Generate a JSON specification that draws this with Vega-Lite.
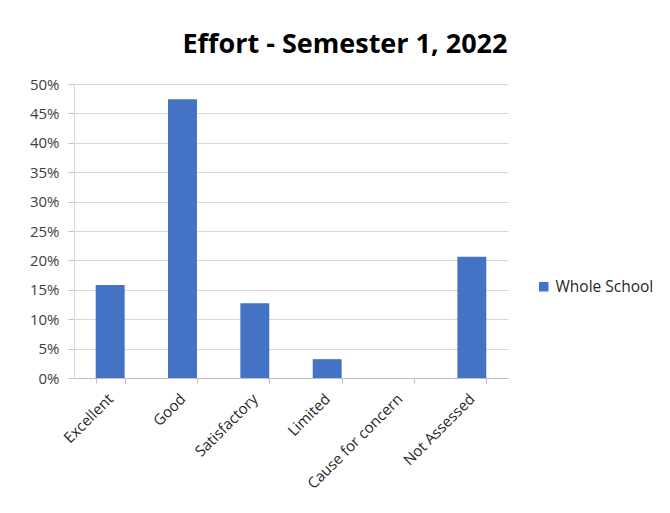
{
  "$schema": "https://vega.github.io/schema/vega-lite/v6.json",
  "autosize": {"type": "none"},
  "width": 434,
  "height": 294,
  "padding": {"left": 74, "top": 84, "right": 162, "bottom": 135},
  "background": "white",
  "title": {
    "text": "Effort - Semester 1, 2022",
    "font": "Open Sans",
    "fontSize": 27,
    "fontWeight": "bold",
    "color": "#000000",
    "anchor": "middle",
    "dx": 54,
    "offset": 18
  },
  "data": {
    "values": [
      {"category": "Excellent", "value": 0.158, "series": "Whole School"},
      {"category": "Good", "value": 0.474, "series": "Whole School"},
      {"category": "Satisfactory", "value": 0.127, "series": "Whole School"},
      {"category": "Limited", "value": 0.032, "series": "Whole School"},
      {"category": "Cause for concern", "value": 0.0, "series": "Whole School"},
      {"category": "Not Assessed", "value": 0.206, "series": "Whole School"}
    ]
  },
  "mark": {"type": "bar"},
  "encoding": {
    "x": {
      "field": "category",
      "type": "nominal",
      "sort": null,
      "scale": {"paddingInner": 0.6, "paddingOuter": 0.3},
      "axis": {
        "title": null,
        "labelAngle": -45,
        "labelAlign": "right",
        "labelBaseline": "middle",
        "labelFont": "Open Sans",
        "labelFontSize": 15,
        "labelColor": "#262626",
        "labelPadding": 13,
        "tickBand": "extent",
        "tickSize": 5,
        "tickColor": "#bfbfbf",
        "domainColor": "#bfbfbf",
        "grid": false
      }
    },
    "y": {
      "field": "value",
      "type": "quantitative",
      "scale": {"domain": [0, 0.5]},
      "axis": {
        "title": null,
        "format": ".0%",
        "values": [0, 0.05, 0.1, 0.15, 0.2, 0.25, 0.3, 0.35, 0.4, 0.45, 0.5],
        "labelFont": "Open Sans",
        "labelFontSize": 15,
        "labelColor": "#404040",
        "labelPadding": 9,
        "tickSize": 6,
        "tickColor": "#bfbfbf",
        "domain": true,
        "domainColor": "#d9d9d9",
        "gridColor": "#d9d9d9",
        "gridWidth": 1
      }
    },
    "color": {
      "field": "series",
      "type": "nominal",
      "scale": {"range": ["#4472C4"]},
      "legend": {
        "title": null,
        "orient": "none",
        "legendX": 462,
        "legendY": 195,
        "symbolType": "square",
        "symbolSize": 90,
        "labelFont": "Open Sans",
        "labelFontSize": 15.5,
        "labelColor": "#262626"
      }
    }
  },
  "config": {"view": {"stroke": null}}
}
